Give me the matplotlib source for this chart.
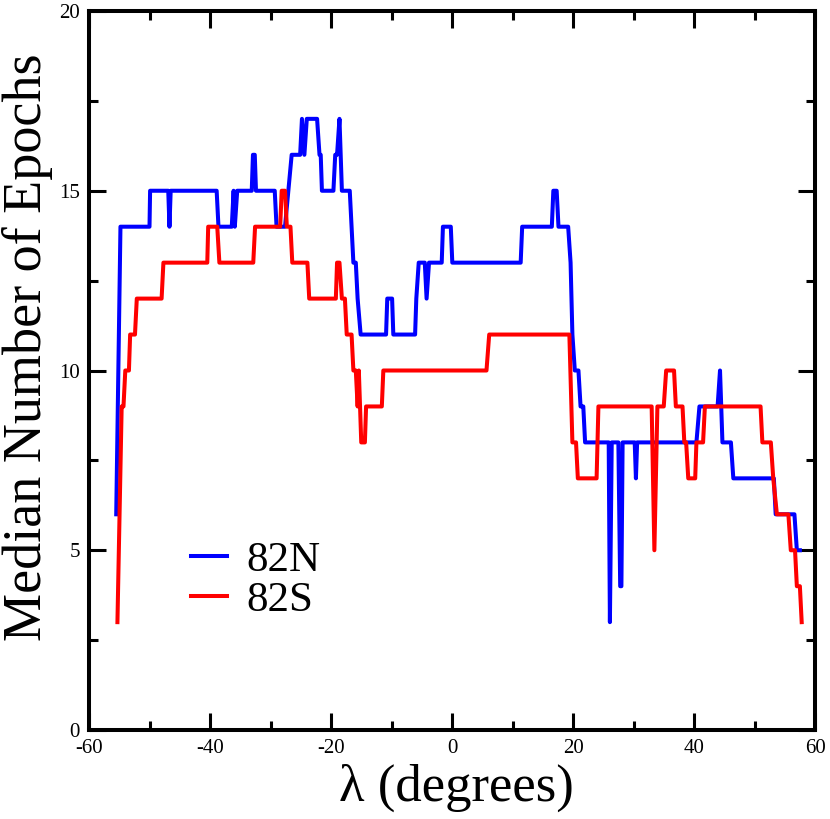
import matplotlib
matplotlib.use('Agg')
from matplotlib import pyplot as plt
from matplotlib.ticker import MultipleLocator
#
# median number of epochs vs ecliptic longitude, two fields
lam_N = [-55.5, -54.8, -50.0, -49.9, -46.9, -46.7, -46.5, -38.9, -38.6, -36.4, -36.1,
         -35.9, -35.5, -33.1, -32.9, -32.6, -32.4, -29.3, -29.0, -27.6, -27.05, -26.5,
         -25.1, -24.8, -24.4, -24.0, -22.3, -21.9, -21.7, -21.5, -19.6, -19.3, -19.0,
         -18.6, -18.2, -16.9, -16.6, -16.3, -15.9, -15.6, -15.1, -10.9, -10.7, -9.9,
         -9.7, -6.1, -5.9, -5.5, -4.5, -4.2, -3.8, -1.7, -1.5, -0.2, 0.05, 11.35, 11.6,
         16.5, 16.75, 17.3, 17.6, 19.2, 19.6, 19.9, 20.3, 20.9, 21.25, 21.7, 22.0, 25.9,
         26.1, 26.4, 27.5, 27.8, 28.0, 28.2, 30.2, 30.4, 30.6, 40.4, 40.9, 43.9, 44.3,
         44.7, 46.1, 46.5, 53.2, 53.5, 56.6, 57.0, 57.5]
med_N = [6, 14, 14, 15, 15, 14, 15, 15, 14, 14, 15,
         14, 15, 15, 16, 16, 15, 15, 14, 14, 15, 16,
         16, 17, 16, 17, 17, 16, 16, 15, 15, 16, 16,
         17, 15, 15, 14, 13, 13, 12, 11, 11, 12, 12,
         11, 11, 12, 13, 13, 12, 13, 13, 14, 14, 13, 13, 14,
         14, 15, 15, 14, 14, 13, 11, 10, 10, 9, 9, 8, 8,
         3, 8, 8, 4, 4, 8, 8, 7, 8, 8, 9, 9, 10,
         8, 8, 7, 7, 6, 6, 5, 5]
#
lam_S = [-55.3, -54.6, -54.3, -54.0, -53.4, -53.2, -52.4, -52.1, -48.0, -47.7, -40.45,
         -40.3, -38.8, -38.45, -32.85, -32.55, -28.4, -28.15, -27.6, -27.3, -26.7, -26.4,
         -23.9, -23.6, -19.2, -19.0, -18.6, -18.2, -17.7, -17.4, -16.6, -16.3, -15.9,
         -15.6, -15.4, -15.0, -14.4, -14.2, -11.6, -11.35, 5.7, 6.15, 19.4, 19.9, 20.5,
         20.8, 23.9, 24.2, 33.0, 33.45, 33.95, 35.0, 35.4, 36.7, 37.0, 38.1, 38.4, 38.7,
         39.05, 40.2, 40.4, 41.5, 41.8, 51.0, 51.3, 52.7, 53.1, 53.7, 55.6, 56.0, 56.7,
         57.0, 57.5, 57.8]
med_S = [3, 9, 9, 10, 10, 11, 11, 12, 12, 13, 13,
         14, 14, 13, 13, 14, 14, 15, 15, 14, 14, 13,
         13, 12, 12, 13, 13, 12, 12, 11, 11, 10, 10,
         9, 10, 8, 8, 9, 9, 10, 10, 11, 11, 8, 8,
         7, 7, 9, 9, 5, 9, 9, 10, 10, 9, 9, 8, 8,
         7, 7, 8, 8, 9, 9, 8, 8, 7, 6, 6, 5, 5,
         4, 4, 3]
#
plt.rcParams['font.family'] = ['Liberation Serif', 'DejaVu Serif']
plt.rcParams['axes.unicode_minus'] = False
#
fig = plt.figure(figsize=(8.3, 8.19), dpi=100)
ax = fig.add_axes([89/830, 89/819, 726/830, 719/819])
ax.plot(lam_N, med_N, color='#0000ff', lw=2.9, label='82N')
ax.plot(lam_S, med_S, color='#ff0000', lw=2.9, label='82S')
#
ax.set_xlim(-60, 60)
ax.set_ylim(0, 20)
ax.xaxis.set_major_locator(MultipleLocator(20))
ax.xaxis.set_minor_locator(MultipleLocator(10))
ax.yaxis.set_major_locator(MultipleLocator(5))
ax.yaxis.set_minor_locator(MultipleLocator(2.5))
ax.tick_params(which='both', direction='in', top=True, right=True, labelsize=15, pad=6.5)
ax.tick_params(which='major', length=12, width=2.2)
ax.tick_params(which='minor', length=6.5, width=2.2)
for s in ax.spines.values():
  s.set_linewidth(2.9)
#
ax.set_xlabel('λ (degrees)', fontsize=38)
ax.xaxis.set_label_coords(0.506, -0.047)
ax.set_ylabel('Median Number of Epochs', fontsize=39)
ax.yaxis.set_label_coords(-0.049, 0.533)
#
ax.legend(loc='upper left', bbox_to_anchor=(0.14, 0.2625), frameon=False, fontsize=31,
          handlelength=0.85, handletextpad=0.45, labelspacing=0.02,
          borderpad=0, borderaxespad=0)
#
fig.savefig('out.png', dpi=100)
